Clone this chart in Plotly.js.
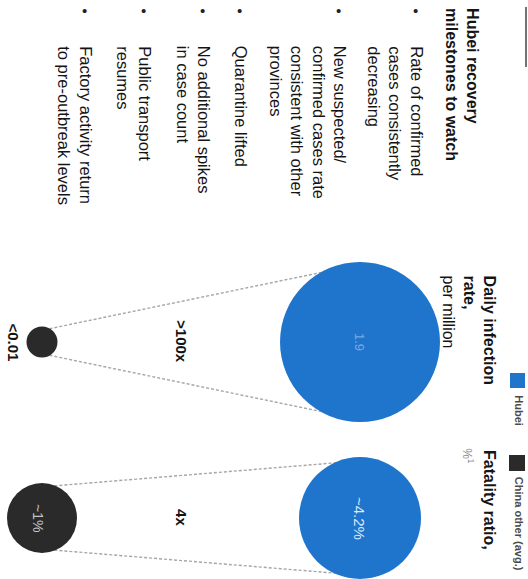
<!DOCTYPE html>
<html>
<head>
<meta charset="utf-8">
<script src="https://cdn.plot.ly/plotly-3.0.1.min.js"></script>
<style>html,body{margin:0;padding:0;background:#fff}#chart{width:528px;height:579px}</style>
</head>
<body>
<div id="chart"></div>
<script>
// ---------------- data ----------------
const titleText = "Hubei recovery<br>milestones to watch";
const milestones = [
  "Rate of confirmed<br>cases consistently<br>decreasing",
  "New suspected/<br>confirmed cases rate<br>consistent with other<br>provinces",
  "Quarantine lifted",
  "No additional spikes<br>in case count",
  "Public transport<br>resumes",
  "Factory activity return<br>to pre-outbreak levels"
];
const metrics = ["Daily infection rate, per million", "Fatality ratio, %1"];
const metricHeaders = ["<b>Daily infection</b><br><b>rate,</b><br>per million", "<b>Fatality ratio,</b>"];
const metricNotes = ["", "%<sup>1</sup>"];
const seriesNames = ["China other (avg.)", "Hubei"];
const otherValues = [0.01, 1];
const hubeiValues = [1.9, 4.2];
const otherLabels = ["<0.01", "~1%"];
const hubeiLabels = ["1.9", "~4.2%"];
const ratioLabels = [">100x", "4x"];

// ---------------- layout / style constants ----------------
const W = 528, H = 579;
const FONT = "Liberation Sans, Arial, Helvetica, sans-serif";
const BLUE = "#1f75cc", DARK = "#2a2a2a", INK = "#141414", DASH = "#a6a6a6";
const X0_PX = 42, X1_PX = 360;     // pixel x of series index 0 / 1
const Y0_PX = 342, Y1_PX = 518;    // pixel y of metric index 0 / 1
const OTHER_SIZE = [31, 70];       // marker diameters (px)
const HUBEI_SIZE = [160, 122];
const MILESTONE_X = [415, 338, 239, 202, 143, 84]; // first-line centre (px)
const LINE_INSET = 4;

const xr0 = -X0_PX / (X1_PX - X0_PX);
const xr1 = xr0 + W / (X1_PX - X0_PX);
const yTop = -Y0_PX / (Y1_PX - Y0_PX);
const yBot = (H - Y0_PX) / (Y1_PX - Y0_PX);
const px = v => X0_PX + v * (X1_PX - X0_PX);
const py = v => Y0_PX + v * (Y1_PX - Y0_PX);
const vx = p => (p - X0_PX) / (X1_PX - X0_PX);
const vy = p => (p - Y0_PX) / (Y1_PX - Y0_PX);

const metricIdx = metrics.map((_, i) => i);

const traces = [
  {
    type: "scatter", mode: "markers", name: seriesNames[0],
    x: otherValues.map(() => 0), y: metricIdx,
    customdata: otherValues,
    marker: {size: OTHER_SIZE, color: DARK, line: {width: 0}, opacity: 1},
    cliponaxis: false, hoverinfo: "skip", showlegend: false
  },
  {
    type: "scatter", mode: "markers", name: seriesNames[1],
    x: hubeiValues.map(() => 1), y: metricIdx,
    customdata: hubeiValues,
    marker: {size: HUBEI_SIZE, color: BLUE, line: {width: 0}, opacity: 1},
    cliponaxis: false, hoverinfo: "skip", showlegend: false
  }
];

// rotated text helper (paper coordinates from pixel positions)
function rot(text, cxFirst, yTopPx, size, opts) {
  opts = opts || {};
  return Object.assign({
    xref: "paper", yref: "paper",
    x: (cxFirst + 0.65 * size + 2) / W, xanchor: "right",
    y: 1 - (yTopPx - 2) / H, yanchor: "top",
    text: text, showarrow: false, textangle: 90, align: "left",
    font: {family: FONT, size: size, color: opts.color || INK}
  }, opts.extra || {});
}

const annotations = [];
const shapes = [];

// title
annotations.push(rot("<b>" + titleText.split("<br>").join("</b><br><b>") + "</b>", 471, 8, 16));
// milestones with bullets
milestones.forEach((m, i) => {
  annotations.push(rot(m, MILESTONE_X[i], 46, 16.5));
  annotations.push({
    xref: "paper", yref: "paper", x: MILESTONE_X[i] / W, y: 1 - 10 / H,
    xanchor: "center", yanchor: "middle", text: "•", showarrow: false,
    font: {family: FONT, size: 15, color: "#222"}
  });
});
// metric headers
const headerTop = [276, 450];
metricHeaders.forEach((h, i) => {
  annotations.push(rot(h, 488, headerTop[i], 16));
  if (metricNotes[i]) annotations.push(rot(metricNotes[i], 468, 448, 12, {color: "#888"}));
});

// data labels
metricIdx.forEach(i => {
  annotations.push({
    xref: "x", yref: "y", x: 1, y: i, text: hubeiLabels[i], showarrow: false, textangle: 90,
    xanchor: "center", yanchor: "middle",
    font: {family: FONT, size: i === 0 ? 13 : 15, color: i === 0 ? "rgba(255,255,255,0.4)" : "rgba(255,255,255,0.85)"}
  });
  const inside = i === 1;
  annotations.push({
    xref: "x", yref: "y", x: 0, y: i, text: inside ? otherLabels[i] : "<b>" + otherLabels[i] + "</b>",
    showarrow: false, textangle: 90, xanchor: "center", yanchor: "middle",
    xshift: inside ? -4 : -(OTHER_SIZE[i] / 2 + 13),
    font: {family: FONT, size: inside ? 14 : 15, color: inside ? "#c4c4c4" : INK}
  });
  annotations.push({
    xref: "x", yref: "y", x: 0.44, y: i, text: "<b>" + ratioLabels[i] + "</b>", showarrow: false,
    textangle: 90, xanchor: "center", yanchor: "middle",
    font: {family: FONT, size: 15, color: INK}
  });

  // dashed connector lines (outer tangents between the two circles)
  const c1x = px(0), c2x = px(1), cy = py(i);
  const r1 = OTHER_SIZE[i] / 2, r2 = HUBEI_SIZE[i] / 2;
  const s = (r2 - r1) / (c2x - c1x), c = Math.sqrt(1 - s * s);
  [-1, 1].forEach(sg => {
    const nx = -s, ny = sg * c;
    shapes.push({
      type: "line", xref: "x", yref: "y", layer: "below",
      x0: vx(c1x + (r1 - LINE_INSET) * nx), y0: vy(cy + (r1 - LINE_INSET) * ny),
      x1: vx(c2x + (r2 - LINE_INSET) * nx), y1: vy(cy + (r2 - LINE_INSET) * ny),
      line: {color: DASH, width: 1.4, dash: "3px,2px"}
    });
  });
});

// legend (rotated)
const legendColors = [DARK, BLUE];
const legendBox = [[509, 455, 525, 471], [510, 373, 525, 388]];
const legendTextTop = [477, 395];
[1, 0].forEach(k => {
  const b = legendBox[k];
  shapes.push({type: "rect", xref: "paper", yref: "paper",
    x0: b[0] / W, x1: b[2] / W, y0: 1 - b[1] / H, y1: 1 - b[3] / H,
    fillcolor: legendColors[k], line: {width: 0}});
  annotations.push(rot("<b>" + seriesNames[k] + "</b>", 518, legendTextTop[k], 11, {color: "#4a4a4a"}));
});
// cropped rule at top right
shapes.push({type: "line", xref: "paper", yref: "paper", x0: 526 / W, x1: 526 / W,
  y0: 1 - 7 / H, y1: 1 - 67 / H, line: {color: "#444", width: 1.5}});

const layout = {
  width: W, height: H, autosize: false,
  margin: {l: 0, r: 0, t: 0, b: 0, pad: 0},
  paper_bgcolor: "#fff", plot_bgcolor: "#fff",
  showlegend: false,
  xaxis: {range: [xr0, xr1], visible: false, fixedrange: true},
  yaxis: {range: [yBot, yTop], visible: false, fixedrange: true},
  annotations: annotations, shapes: shapes,
  font: {family: FONT}
};

Plotly.newPlot("chart", traces, layout, {staticPlot: true, displayModeBar: false});
</script>
</body>
</html>
